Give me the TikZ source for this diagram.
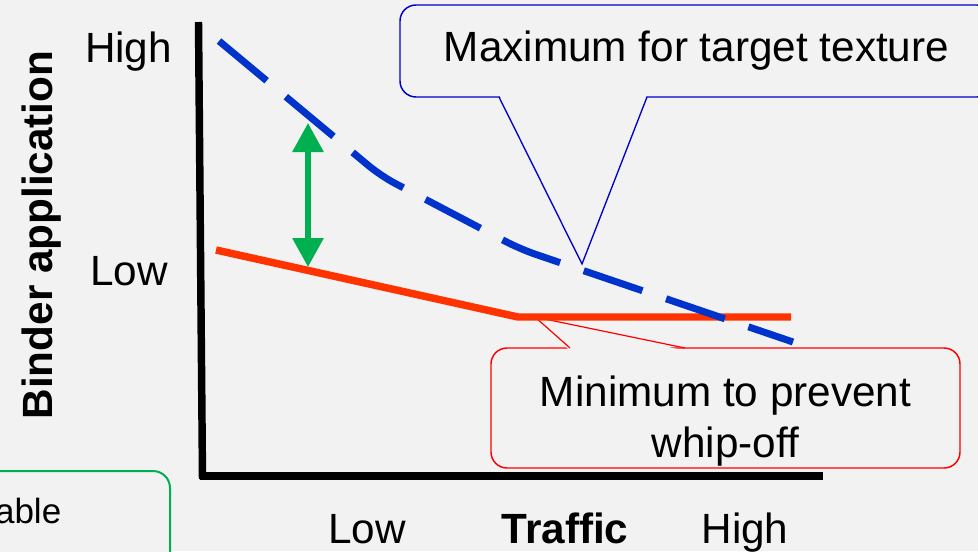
\documentclass[tikz,border=0pt]{standalone}
\usepackage{fontspec}
\setmainfont{Liberation Sans}
\usetikzlibrary{arrows.meta}
\definecolor{bg}{HTML}{F2F2F2}
\definecolor{dashblue}{HTML}{0033CC}
\definecolor{boxblue}{HTML}{0000CC}
\definecolor{lineorange}{HTML}{FF3300}
\definecolor{boxred}{HTML}{FF0000}
\definecolor{okgreen}{HTML}{00B050}
\begin{document}
\begin{tikzpicture}[x=0.75pt,y=-0.75pt,
  lbl/.style={inner sep=0pt, font=\fontsize{31.7}{38}\selectfont},
  boldlbl/.style={lbl, font=\fontsize{31.7}{38}\selectfont\bfseries},
  axisline/.style={line width=5.6pt, black, line cap=butt},
  maxline/.style={line width=5.25pt, dashblue, dash pattern=on 46.5pt off 18.75pt, line cap=butt, rounded corners=12pt},
  minline/.style={line width=5.6pt, lineorange, line cap=butt, line join=round},
  rangearrow/.style={line width=4.5pt, okgreen, {Triangle[width=22.5pt,length=21.75pt]}-{Triangle[width=22.5pt,length=21.75pt]}},
  calloutblue/.style={draw=boxblue, line width=1.1pt, fill=bg, rounded corners=12pt, inner sep=0pt},
  calloutred/.style={draw=boxred, line width=1.1pt, fill=bg, rounded corners=12pt, inner sep=0pt},
  greenframe/.style={draw=okgreen, line width=1.5pt, fill=bg, rounded corners=12.75pt, inner sep=0pt},
  pointerblue/.style={draw=boxblue, line width=1pt, line join=miter},
  pointerred/.style={draw=boxred, line width=0.9pt, line join=miter}
]
\useasboundingbox (0,0) rectangle (978,551);
\begin{scope}
\clip (0,0) rectangle (978,551);
\fill[bg] (0,0) rectangle (978,551);

% partly visible green box at bottom left
\node[greenframe, minimum width=150pt, minimum height=126.75pt] (accbox) at (70,555.5) {};
\node[lbl, anchor=base east, font=\fontsize{26.25}{36}\selectfont] (acctext) at (61.5,523) {able};

% blue callout
\node[calloutblue, minimum width=444.75pt, minimum height=69pt, font=\fontsize{31.7}{38}\selectfont] (maxbox) at (696.5,51) {Maximum for target texture};
\coordinate (maxbaseL) at (499,97);
\coordinate (maxbaseR) at (647,97);
\coordinate (maxtip) at (582,264);
\fill[bg] ([yshift=2pt]maxbaseL) -- (maxtip) -- ([yshift=2pt]maxbaseR) -- cycle;
\draw[pointerblue] (maxbaseL) -- (maxtip) -- (maxbaseR);

% red callout
\node[calloutred, minimum width=351.75pt, minimum height=90pt] (minbox) at (725.5,408) {};
\node[lbl, align=center] (mintext) at (725.5,421) {Minimum to prevent\\whip-off};
\coordinate (minbaseL) at (570,348);
\coordinate (minbaseR) at (685,348);
\coordinate (mintip) at (535,317);
\fill[bg] ([yshift=-2pt]minbaseL) -- (mintip) -- ([yshift=-2pt]minbaseR) -- cycle;
\draw[pointerred] (minbaseL) -- (mintip) -- (minbaseR);

% axes
\coordinate (ytop) at (198.5,22);
\coordinate (origin) at (202.5,479);
\coordinate (xstart) at (199.5,476);
\coordinate (xend) at (823,476);
\draw[axisline] (ytop) -- (origin);
\draw[axisline] (xstart) -- (xend);

% minimum curve
\coordinate (minA) at (216,250);
\coordinate (minB) at (518,317);
\coordinate (minC) at (791,317);
\draw[minline] (minA) -- (minB) -- (minC);

% maximum curve
\coordinate (maxA) at (219,41);
\coordinate (maxB) at (381,176);
\coordinate (maxC) at (520,249);
\coordinate (maxD) at (793,342);
\draw[maxline] (maxA) -- (maxB) -- (maxC) -- (maxD);

% range arrow
\coordinate (rangeTop) at (308,123);
\coordinate (rangeBot) at (308,267);
\draw[rangearrow] (rangeBot) -- (rangeTop);

% axis labels
\node[lbl, anchor=base] (yhigh) at (128.5,62) {High};
\node[lbl, anchor=base] (ylow) at (129,285) {Low};
\node[boldlbl, anchor=base, rotate=90] (ytitle) at (52.5,235) {Binder application};
\node[lbl, anchor=base] (xlow) at (367,543) {Low};
\node[boldlbl, anchor=base] (xtitle) at (565,543) {Traffic};
\node[lbl, anchor=base] (xhigh) at (745,543) {High};
\end{scope}
\end{tikzpicture}
\end{document}
